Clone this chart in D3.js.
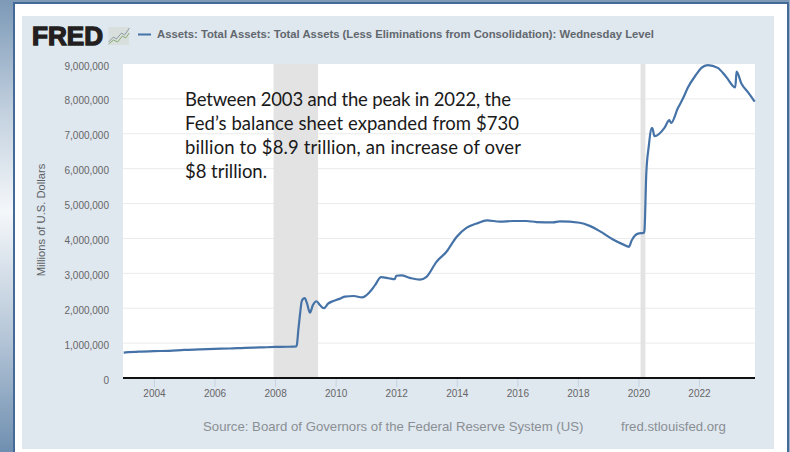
<!DOCTYPE html>
<html>
<head>
<meta charset="utf-8">
<script src="https://cdn.jsdelivr.net/npm/d3@7"></script>
<style>
  html, body { margin: 0; padding: 0; background: #fff; }
  svg { display: block; }
  text { font-family: "Liberation Sans", Arial, sans-serif; }
</style>
</head>
<body>
<svg id="chart" width="790" height="452"></svg>
<script>
// Fed total assets, Wednesday level (decimal year, millions of dollars)
const years = [
  2003.0, 2003.5, 2004.0, 2004.5, 2005.0, 2005.5, 2006.0, 2006.5, 2007.0, 2007.5, 2008.0, 2008.4, 2008.7,
  2008.72, 2008.77, 2008.82, 2008.88, 2008.93, 2008.98, 2009.05, 2009.15, 2009.25, 2009.37, 2009.48, 2009.61,
  2009.75, 2009.9, 2010.1, 2010.3, 2010.6, 2010.87, 2011.13, 2011.3, 2011.5, 2011.75, 2011.95, 2012.0, 2012.17,
  2012.45, 2012.78, 2013.0, 2013.33, 2013.66, 2014.0, 2014.33, 2014.66, 2015.0, 2015.42, 2015.86, 2016.3,
  2016.63, 2017.18, 2017.4, 2018.06, 2018.39, 2018.72, 2019.16, 2019.49, 2019.69, 2019.77, 2019.99, 2020.18,
  2020.2, 2020.26, 2020.34, 2020.43, 2020.46, 2020.53, 2020.86, 2021.02, 2021.08, 2021.3, 2021.47, 2021.63,
  2021.91, 2022.08, 2022.29, 2022.62, 2022.9, 2023.2, 2023.24, 2023.4, 2023.61, 2023.84
];
const assets = [
  730000, 755000, 770000, 780000, 805000, 820000, 835000, 845000, 865000, 875000, 890000, 895000, 905000,
  950000, 1400000, 1800000, 2200000, 2270000, 2290000, 2150000, 1870000, 2090000, 2200000, 2090000, 2000000,
  2130000, 2200000, 2260000, 2330000, 2350000, 2310000, 2470000, 2660000, 2890000, 2860000, 2830000, 2930000, 2940000,
  2870000, 2820000, 2900000, 3330000, 3620000, 4050000, 4310000, 4430000, 4520000, 4480000, 4500000, 4500000,
  4470000, 4460000, 4490000, 4450000, 4360000, 4210000, 3970000, 3830000, 3760000, 3930000, 4140000, 4160000,
  4240000, 5870000, 6630000, 7160000, 7160000, 6930000, 7170000, 7390000, 7310000, 7730000, 8010000, 8320000,
  8700000, 8890000, 8970000, 8890000, 8630000, 8330000, 8780000, 8440000, 8200000, 7920000
];
const recessions = [[2007.95, 2009.42], [2020.07, 2020.23]];
const yTicks = [0, 1000000, 2000000, 3000000, 4000000, 5000000, 6000000, 7000000, 8000000, 9000000];
const xTicks = [2004, 2006, 2008, 2010, 2012, 2014, 2016, 2018, 2020, 2022];
const note = [
  "Between 2003 and the peak in 2022, the",
  "Fed\u2019s balance sheet expanded from $730",
  "billion to $8.9 trillion, an increase of over",
  "$8 trillion."
];
const noteWidths = [326, 334, 336, 82];
const seriesTitle = "Assets: Total Assets: Total Assets (Less Eliminations from Consolidation): Wednesday Level";
// Sparkline in the logo tile (tile-relative units)
const logoLineA = [[0, 15], [5, 10], [8, 12], [13, 6], [16, 8], [21, 1]];
const logoLineB = [[0, 17], [5, 13], [9, 15], [14, 9], [17, 11], [21, 6]];

const svg = d3.select("#chart");
const plot = { left: 123, right: 755, top: 64, bottom: 378 };

const x = d3.scaleLinear().domain([2003, 2023.85]).range([123.7, 755]);
const y = d3.scaleLinear().domain([0, 9000000]).range([plot.bottom, plot.top]);

// Slide frame around the chart
const defs = svg.append("defs");
const strip = defs.append("linearGradient").attr("id", "strip")
  .attr("x1", 0).attr("y1", 0).attr("x2", 0).attr("y2", 1);
[[0, "#7c99b7"], [0.25, "#c3d1df"], [0.47, "#f4f7fa"], [0.75, "#b4c5d7"], [1, "#6f8fb0"]].forEach(([o, c]) =>
  strip.append("stop").attr("offset", o).attr("stop-color", c));

svg.append("rect").attr("x", 0).attr("y", 0).attr("width", 790).attr("height", 452).attr("fill", "#fff");
svg.append("rect").attr("x", 0).attr("y", 0).attr("width", 14).attr("height", 452).attr("fill", "url(#strip)");
svg.append("rect").attr("x", 0).attr("y", 0).attr("width", 790).attr("height", 2).attr("fill", "#7f9ab6");
svg.append("rect").attr("x", 13).attr("y", 2).attr("width", 777).attr("height", 2).attr("fill", "#446a97");
svg.append("rect").attr("x", 13).attr("y", 2).attr("width", 2).attr("height", 450).attr("fill", "#446a97");
svg.append("rect").attr("x", 787).attr("y", 2).attr("width", 2).attr("height", 450).attr("fill", "#446a97");
svg.append("rect").attr("x", 789).attr("y", 0).attr("width", 1).attr("height", 452).attr("fill", "#9db2c8");

// Chart panel and plot area
svg.append("rect").attr("x", 22).attr("y", 16).attr("width", 752).attr("height", 433).attr("fill", "#dfe7ef");
svg.append("rect").attr("x", plot.left).attr("y", plot.top)
  .attr("width", plot.right - plot.left).attr("height", plot.bottom - plot.top).attr("fill", "#fff");

// Logo
svg.append("text").attr("x", 32).attr("y", 45).attr("font-size", 25).attr("font-weight", 700)
  .attr("fill", "#231f20").attr("stroke", "#231f20").attr("stroke-width", 1.3)
  .attr("textLength", 71).attr("lengthAdjust", "spacingAndGlyphs").text("FRED");
const logo = svg.append("g").attr("transform", "translate(108.5,27)");
logo.append("rect").attr("width", 20.5).attr("height", 18).attr("fill", "#d9dfdc");
const logoLine = d3.line();
logo.append("path").attr("d", logoLine(logoLineA)).attr("fill", "none").attr("stroke", "#8d9aa2").attr("stroke-width", 1);
logo.append("path").attr("d", logoLine(logoLineB)).attr("fill", "none").attr("stroke", "#86ab72").attr("stroke-width", 1);

// Legend
svg.append("line").attr("x1", 138).attr("x2", 151).attr("y1", 34.5).attr("y2", 34.5)
  .attr("stroke", "#4572a7").attr("stroke-width", 2);
svg.append("text").attr("x", 157).attr("y", 38).attr("font-size", 10.6).attr("font-weight", 700)
  .attr("fill", "#62676e").attr("textLength", 497).attr("lengthAdjust", "spacingAndGlyphs").text(seriesTitle);

// Horizontal gridlines
svg.append("g").selectAll("line").data(yTicks.filter(d => d > 0 && d < 9000000)).join("line")
  .attr("x1", plot.left).attr("x2", plot.right)
  .attr("y1", d => y(d)).attr("y2", d => y(d))
  .attr("stroke", "#ebebeb").attr("stroke-width", 1);

// Recession bands
svg.append("g").selectAll("rect").data(recessions).join("rect")
  .attr("x", d => x(d[0])).attr("width", d => x(d[1]) - x(d[0]))
  .attr("y", plot.top).attr("height", plot.bottom - plot.top)
  .attr("fill", "#e3e3e3");

// Left axis labels
const yAxis = svg.append("g").attr("transform", `translate(${plot.left},0)`)
  .call(d3.axisLeft(y).tickValues(yTicks).tickFormat(d3.format(",")).tickSize(0).tickPadding(14));
yAxis.select(".domain").remove();
yAxis.selectAll("text").attr("font-size", 10).attr("fill", "#666").attr("dy", "0.5em")
  .style("font-family", '"Liberation Sans", Arial, sans-serif');

// Bottom axis
const xAxis = svg.append("g").attr("transform", `translate(0,${plot.bottom})`)
  .call(d3.axisBottom(x).tickValues(xTicks).tickFormat(d3.format("d")).tickSize(9).tickPadding(3));
xAxis.select(".domain").remove();
xAxis.selectAll("line").attr("stroke", "#c6d3e0");
xAxis.selectAll("text").attr("font-size", 10).attr("fill", "#666")
  .style("font-family", '"Liberation Sans", Arial, sans-serif');
svg.append("line").attr("x1", plot.left).attr("x2", plot.right)
  .attr("y1", plot.bottom).attr("y2", plot.bottom)
  .attr("stroke", "#111").attr("stroke-width", 2);

// Series line
const line = d3.line().x(d => x(d[0])).y(d => y(d[1])).curve(d3.curveMonotoneX);
svg.append("path").datum(d3.zip(years, assets)).attr("d", line)
  .attr("fill", "none").attr("stroke", "#4572a7").attr("stroke-width", 2.2).attr("stroke-linejoin", "round");

// Axis title and source lines
svg.append("text").attr("transform", "translate(44.5,220) rotate(-90)").attr("text-anchor", "middle")
  .attr("font-size", 11.2).attr("fill", "#5b5f63").text("Millions of U.S. Dollars");
svg.append("text").attr("x", 203).attr("y", 431).attr("font-size", 13.2).attr("fill", "#8a8f94")
  .text("Source: Board of Governors of the Federal Reserve System (US)");
svg.append("text").attr("x", 621).attr("y", 431).attr("font-size", 13.2).attr("fill", "#8a8f94")
  .text("fred.stlouisfed.org");

// Annotation
svg.append("g").selectAll("text").data(note).join("text")
  .attr("x", 185).attr("y", (d, i) => 106 + i * 24)
  .attr("font-size", 18.5).attr("fill", "#1a1a1a")
  .attr("textLength", (d, i) => noteWidths[i]).attr("lengthAdjust", "spacing")
  .style("font-family", "Lato, sans-serif")
  .text(d => d);
</script>
</body>
</html>
